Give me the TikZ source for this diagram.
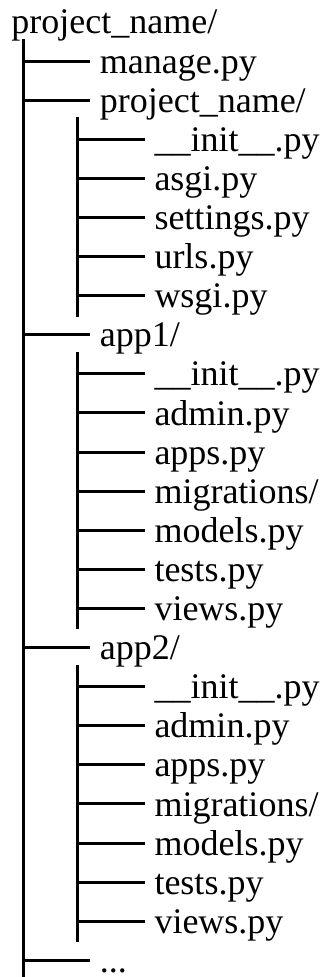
\documentclass[tikz,border=0pt]{standalone}
\usepackage{fontspec}
\setmainfont{Liberation Serif}

% one row of the tree: name, depth (1 or 2), row index, text
\newcommand\treeentry[4]{%
  \ifnum#2=1 \def\tx{99.8}\def\hx{23.3}\def\he{90}%
  \else \def\tx{154.5}\def\hx{77.7}\def\he{145}\fi
  \coordinate (#1-h) at (\hx,{21.9+39.1*#3});
  \coordinate (#1-e) at (\he,{21.9+39.1*#3});
  \node[treetext] (#1) at (\tx,{34.0+39.1*#3}) {#4};
  \draw[branch] (#1-h) -- (#1-e);
}

\begin{document}
\begin{tikzpicture}[x=1pt,y=-1pt,
  treetext/.style={anchor=base west, inner sep=0pt, outer sep=0pt,
                   font=\fontsize{36}{36}\selectfont},
  branch/.style={line width=3pt, line cap=butt}]
\useasboundingbox (0,0) rectangle (329,977);

% root folder and the main trunk below it
\node[treetext] (root) at (11.5,33.6) {project\_name/};
\coordinate (trunk-top) at (23.3,39);
\coordinate (trunk-bot) at (23.3,977);
\draw[branch] (trunk-top) -- (trunk-bot);

% sub-trunks for the three packages
\coordinate (pkg-top) at (77.7,{21.9+39.1*2+17});
\coordinate (pkg-bot) at (77.7,{21.9+39.1*7+21});
\coordinate (appA-top) at (77.7,{21.9+39.1*8+17});
\coordinate (appA-bot) at (77.7,{21.9+39.1*15+21});
\coordinate (appB-top) at (77.7,{21.9+39.1*16+17});
\coordinate (appB-bot) at (77.7,{21.9+39.1*23+21});
\draw[branch] (pkg-top) -- (pkg-bot);
\draw[branch] (appA-top) -- (appA-bot);
\draw[branch] (appB-top) -- (appB-bot);

\treeentry{manage}{1}{1}{manage.py}
\treeentry{pkg}{1}{2}{project\_name/}
\treeentry{pkginit}{2}{3}{\_\_init\_\_.py}
\treeentry{asgi}{2}{4}{asgi.py}
\treeentry{settings}{2}{5}{settings.py}
\treeentry{urls}{2}{6}{urls.py}
\treeentry{wsgi}{2}{7}{wsgi.py}

\treeentry{appA}{1}{8}{app1/}
\treeentry{appAinit}{2}{9}{\_\_init\_\_.py}
\treeentry{appAadmin}{2}{10}{admin.py}
\treeentry{appAapps}{2}{11}{apps.py}
\treeentry{appAmig}{2}{12}{migrations/}
\treeentry{appAmodels}{2}{13}{models.py}
\treeentry{appAtests}{2}{14}{tests.py}
\treeentry{appAviews}{2}{15}{views.py}

\treeentry{appB}{1}{16}{app2/}
\treeentry{appBinit}{2}{17}{\_\_init\_\_.py}
\treeentry{appBadmin}{2}{18}{admin.py}
\treeentry{appBapps}{2}{19}{apps.py}
\treeentry{appBmig}{2}{20}{migrations/}
\treeentry{appBmodels}{2}{21}{models.py}
\treeentry{appBtests}{2}{22}{tests.py}
\treeentry{appBviews}{2}{23}{views.py}

\treeentry{more}{1}{24}{...}
\end{tikzpicture}
\end{document}
